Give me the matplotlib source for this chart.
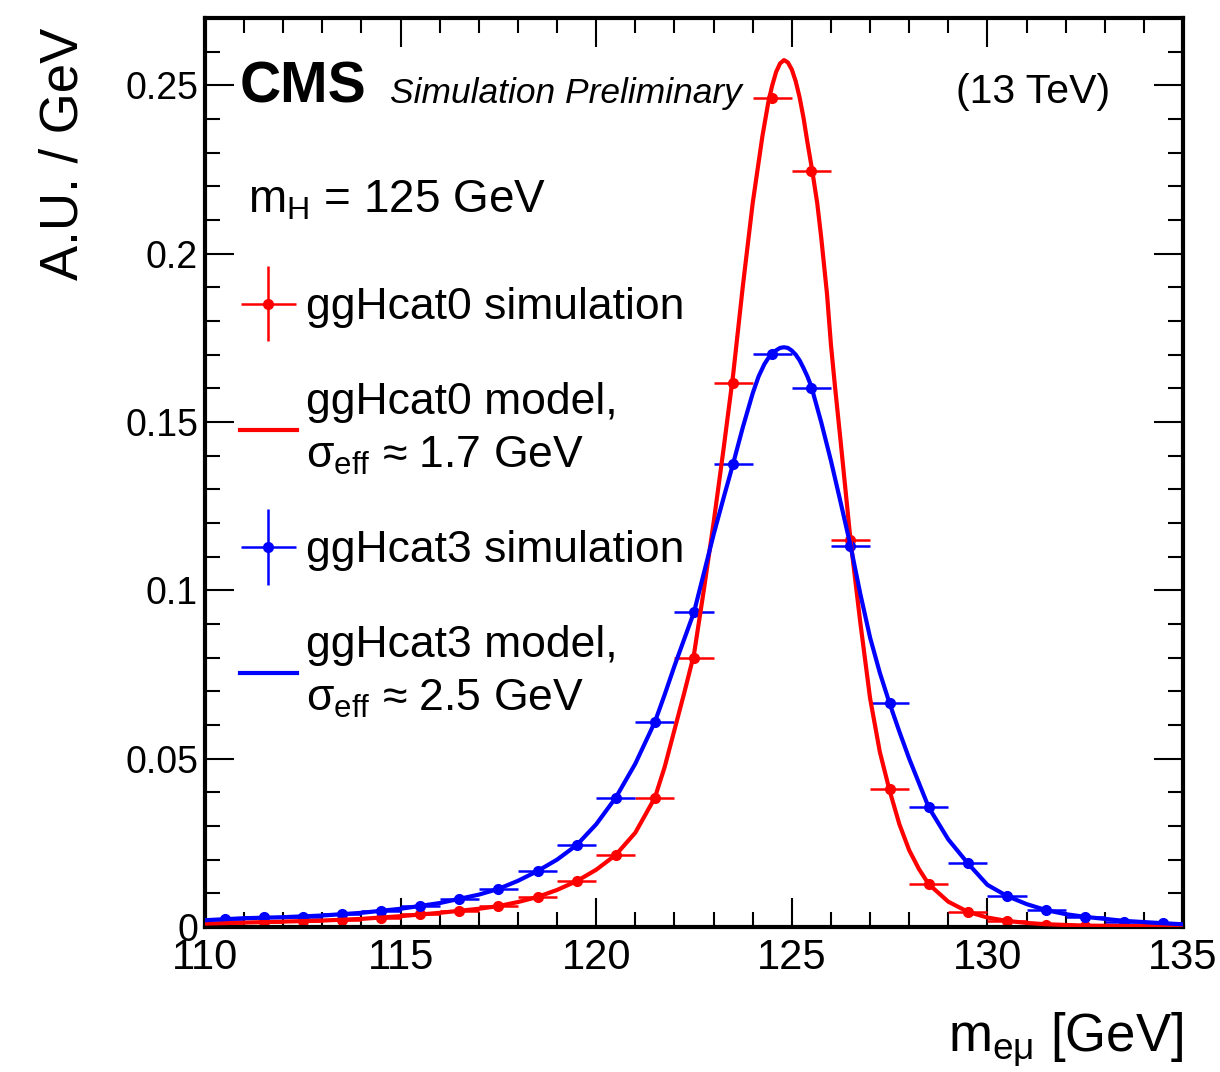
import matplotlib
matplotlib.use('Agg')
import matplotlib.pyplot as plt
from matplotlib.container import ErrorbarContainer
from matplotlib.legend_handler import HandlerErrorbar
from matplotlib.ticker import MultipleLocator, FuncFormatter

REG = 'Liberation Sans'

plt.rcParams['font.family'] = [REG, 'DejaVu Sans']
plt.rcParams['mathtext.fontset'] = 'custom'
plt.rcParams['mathtext.rm'] = REG
plt.rcParams['mathtext.it'] = REG + ':italic'
plt.rcParams['mathtext.bf'] = REG + ':bold'

# ---------------- data ----------------
bin_centers = [110.5, 111.5, 112.5, 113.5, 114.5, 115.5, 116.5, 117.5, 118.5,
               119.5, 120.5, 121.5, 122.5, 123.5, 124.5, 125.5, 126.5, 127.5,
               128.5, 129.5, 130.5, 131.5, 132.5, 133.5, 134.5]
bin_half_width = 0.5
sim_yerr = 0.0008

cat0_sim = [0.0012, 0.0015, 0.0018, 0.0020, 0.0027, 0.0039, 0.0047, 0.0062,
            0.0089, 0.0136, 0.0214, 0.0384, 0.0800, 0.1617, 0.2463, 0.2246,
            0.1148, 0.0409, 0.0127, 0.0045, 0.0018, 0.0007, 0.0004, 0.0003,
            0.0002]
cat3_sim = [0.0024, 0.0030, 0.0030, 0.0039, 0.0047, 0.0062, 0.0083, 0.0113,
            0.0166, 0.0243, 0.0384, 0.0609, 0.0935, 0.1376, 0.1703, 0.1600,
            0.1133, 0.0664, 0.0355, 0.0189, 0.0092, 0.0050, 0.0030, 0.0015,
            0.0011]

cat0_model_x = [110.0, 111.0, 112.0, 113.0, 114.0, 115.0, 116.0, 117.0, 117.5,
                118.0, 118.5, 119.0, 119.5, 120.0, 120.5, 121.0, 121.5, 121.75,
                122.0, 122.25, 122.5, 122.75, 123.0, 123.25, 123.5, 123.75,
                124.0, 124.25, 124.4, 124.5, 124.6, 124.7, 124.8, 124.9, 125.0,
                125.1, 125.2, 125.3, 125.4, 125.52, 125.65, 125.75, 125.9,
                126.0, 126.1, 126.25, 126.5, 126.75, 127.0, 127.25, 127.5,
                127.75, 128.0, 128.25, 128.5, 129.0, 129.5, 130.0, 130.5, 131.0,
                131.5, 132.5, 133.5, 135.0]
cat0_model_y = [0.0010, 0.0013, 0.0016, 0.0019, 0.0024, 0.0032, 0.0042, 0.0054,
                0.0062, 0.0074, 0.0089, 0.0110, 0.0136, 0.0170, 0.0214, 0.0280,
                0.0384, 0.0475, 0.0585, 0.0695, 0.0810, 0.1000, 0.1200, 0.1415,
                0.1640, 0.1905, 0.2150, 0.2350, 0.2450, 0.2500, 0.2540, 0.2565,
                0.2575, 0.2568, 0.2547, 0.2512, 0.2464, 0.2403, 0.2330, 0.2248,
                0.2150, 0.2050, 0.1880, 0.1730, 0.1610, 0.1440, 0.1150, 0.0905,
                0.0680, 0.0520, 0.0405, 0.0305, 0.0228, 0.0172, 0.0127, 0.0075,
                0.0045, 0.0028, 0.0018, 0.0012, 0.0008, 0.0004, 0.0003, 0.0001]

cat3_model_x = [110.0, 111.0, 112.0, 113.0, 114.0, 115.0, 116.0, 117.0, 117.5,
                118.0, 118.5, 119.0, 119.5, 120.0, 120.5, 121.0, 121.5, 121.75,
                122.0, 122.25, 122.5, 122.75, 123.0, 123.25, 123.5, 123.75,
                124.0, 124.15, 124.3, 124.4, 124.5, 124.6, 124.7, 124.8, 124.9,
                125.0, 125.1, 125.2, 125.3, 125.4, 125.5, 125.75, 126.0, 126.25,
                126.5, 126.75, 127.0, 127.25, 127.5, 127.75, 128.0, 128.5,
                129.0, 129.5, 130.0, 130.5, 131.0, 131.5, 132.0, 132.5, 133.5,
                134.5, 135.0]
cat3_model_y = [0.0020, 0.0026, 0.0029, 0.0034, 0.0042, 0.0054, 0.0071, 0.0096,
                0.0113, 0.0137, 0.0166, 0.0200, 0.0243, 0.0305, 0.0384, 0.0485,
                0.0609, 0.0690, 0.0775, 0.0855, 0.0935, 0.1050, 0.1165, 0.1272,
                0.1376, 0.1485, 0.1585, 0.1635, 0.1672, 0.1690, 0.1703, 0.1713,
                0.1720, 0.1722, 0.1720, 0.1712, 0.1700, 0.1683, 0.1660, 0.1635,
                0.1605, 0.1500, 0.1385, 0.1260, 0.1133, 0.0990, 0.0860, 0.0755,
                0.0664, 0.0580, 0.0500, 0.0355, 0.0260, 0.0189, 0.0125, 0.0092,
                0.0068, 0.0050, 0.0038, 0.0030, 0.0018, 0.0011, 0.0008]

labels = ['ggHcat0 simulation',
          'ggHcat0 model,\n$\\mathregular{\\sigma_{eff}}$ \u2248 1.7 GeV',
          'ggHcat3 simulation',
          'ggHcat3 model,\n$\\mathregular{\\sigma_{eff}}$ \u2248 2.5 GeV']

RED = '#ff0000'
BLUE = '#0000ff'

# ---------------- figure ----------------
fig = plt.figure(figsize=(12.2, 10.72), dpi=100)
ax = fig.add_axes([0.168, 0.1353, 0.8017, 0.8479])

eb0 = ax.errorbar(bin_centers, cat0_sim, xerr=bin_half_width, yerr=sim_yerr,
                  fmt='o', color=RED, ms=7, elinewidth=1.8, capsize=0, zorder=2)
eb3 = ax.errorbar(bin_centers, cat3_sim, xerr=bin_half_width, yerr=sim_yerr,
                  fmt='o', color=BLUE, ms=7, elinewidth=1.8, capsize=0, zorder=2)
ln0, = ax.plot(cat0_model_x, cat0_model_y, color=RED, lw=3, zorder=3,
               solid_joinstyle='round')
ln3, = ax.plot(cat3_model_x, cat3_model_y, color=BLUE, lw=3, zorder=3,
               solid_joinstyle='round')

ax.set_xlim(110, 135)
ax.set_ylim(0, 0.27)

ax.xaxis.set_major_locator(MultipleLocator(5))
ax.xaxis.set_minor_locator(MultipleLocator(1))
ax.yaxis.set_major_locator(MultipleLocator(0.05))
ax.yaxis.set_minor_locator(MultipleLocator(0.01))
ax.yaxis.set_major_formatter(FuncFormatter(lambda v, p: '%g' % round(v, 4)))

ax.tick_params(which='both', direction='in', top=True, right=True,
               width=1.5, color='black')
ax.tick_params(which='major', length=21)
ax.tick_params(which='minor', length=11)
ax.tick_params(axis='x', labelsize=30, pad=8)
ax.tick_params(axis='y', labelsize=27, pad=5)

for sp in ax.spines.values():
    sp.set_linewidth(3)

ax.set_xlabel('m$_{\\mathregular{e\\mu}}$ [GeV]', fontsize=38, loc='right')
ax.xaxis.set_label_coords(1.0, -0.092)
ax.xaxis.label.set_verticalalignment('top')

fig.text(64 / 1220, 1 - 28 / 1072, 'A.U. / GeV', rotation=90, ha='center',
         va='top', fontsize=38)

ax.text(0.0358, 0.9065, 'CMS', transform=ax.transAxes, fontsize=41,
        fontweight='bold', va='baseline', ha='left')
ax.text(0.189, 0.9065, 'Simulation Preliminary', transform=ax.transAxes,
        fontsize=25.5, style='italic', va='baseline', ha='left')
ax.text(0.925, 0.9065, '(13 TeV)', transform=ax.transAxes, fontsize=29.5,
        va='baseline', ha='right')
ax.text(0.044, 0.7855, 'm$_{\\mathregular{H}}$ = 125 GeV', transform=ax.transAxes,
        fontsize=33, va='baseline', ha='left')

leg = ax.legend([eb0, ln0, eb3, ln3], labels, loc='upper left',
                bbox_to_anchor=(0.0358, 0.704), frameon=False, fontsize=32,
                handlelength=1.28, handletextpad=0.2, labelspacing=1.21,
                borderpad=0, borderaxespad=0,
                handler_map={ErrorbarContainer: HandlerErrorbar(xerr_size=0.62,
                                                                yerr_size=0.85)})
for t in leg.get_texts():
    t.set_linespacing(1.35)

fig.savefig('out.png', dpi=100)
